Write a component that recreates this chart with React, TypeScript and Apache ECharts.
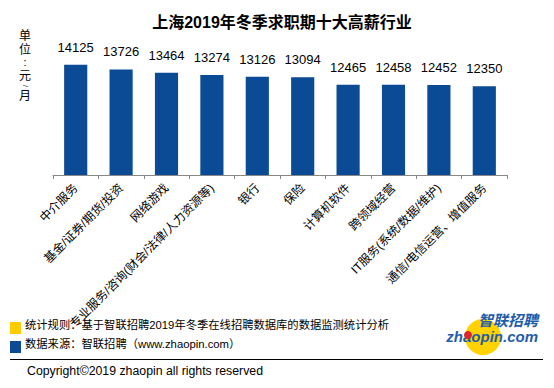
import React, { useEffect, useRef } from "react";
import * as echarts from "echarts";

const title = "上海2019年冬季求职期十大高薪行业";
const categories = [
  "中介服务",
  "基金/证券/期货/投资",
  "网络游戏",
  "专业服务/咨询(财会/法律/人力资源等)",
  "银行",
  "保险",
  "计算机软件",
  "跨领域经营",
  "IT服务(系统/数据/维护)",
  "通信/电信运营、增值服务",
];
const salaries = [14125, 13726, 13464, 13274, 13126, 13094, 12465, 12458, 12452, 12350];
const unitChars = ["单", "位", ":", "元", "/", "月"];
const note1 = "统计规则：基于智联招聘2019年冬季在线招聘数据库的数据监测统计分析";
const note2 = "数据来源：智联招聘（www.zhaopin.com）";
const copyright = "Copyright©2019 zhaopin all rights reserved";

const FONT = "Arial, 'Liberation Sans', 'Noto Sans CJK SC', sans-serif";
const BLUE = "#0B4A94";

export default function App() {
  const ref = useRef<HTMLDivElement>(null);
  useEffect(() => {
    document.body.style.margin = "0";
    if (!ref.current) return;
    const chart = echarts.init(ref.current, null, { renderer: "svg" });
    const unitY = [36, 50, 62, 76, 86, 96];
    const unitSize = [12, 12, 11, 12, 7, 12];
    const unitRot = [0, 0, 0, 0, -Math.PI / 2, 0];
    chart.setOption({
      animation: false,
      backgroundColor: "#fff",
      textStyle: { fontFamily: FONT },
      title: {
        text: title,
        left: 277,
        textAlign: "center",
        top: 9,
        textStyle: { fontSize: 16, fontWeight: "bold", color: "#000", fontFamily: FONT },
      },
      grid: { left: 53, right: 47, top: 42, bottom: 213, containLabel: false },
      xAxis: {
        type: "category",
        data: categories,
        axisLine: { lineStyle: { color: "#888", width: 1 } },
        axisTick: { show: true, length: 4, lineStyle: { color: "#888" } },
        axisLabel: {
          rotate: 45,
          interval: 0,
          fontSize: 12,
          color: "#000",
          margin: 11,
          fontFamily: FONT,
        },
      },
      yAxis: {
        type: "value",
        min: 5000,
        max: 16000,
        show: false,
        splitLine: { show: false },
      },
      series: [
        {
          type: "bar",
          data: salaries,
          barWidth: "51%",
          itemStyle: { color: BLUE },
          label: {
            show: true,
            position: "top",
            distance: 11,
            fontSize: 13,
            color: "#000",
            fontFamily: FONT,
          },
        },
      ],
      graphic: [
        ...unitChars.map((c, i) => ({
          type: "text",
          x: 25,
          y: unitY[i],
          rotation: unitRot[i],
          style: {
            text: c,
            fontSize: unitSize[i],
            fill: "#000",
            align: "center",
            verticalAlign: "middle",
            fontFamily: FONT,
          },
        })),
        { type: "rect", shape: { x: 10, y: 322, width: 11, height: 12 }, style: { fill: "#FFCC00" } },
        { type: "rect", shape: { x: 10, y: 341, width: 11, height: 12 }, style: { fill: BLUE } },
        {
          type: "text",
          x: 25,
          y: 325,
          style: { text: note1, fontSize: 11.3, fill: "#000", verticalAlign: "middle", fontFamily: FONT },
        },
        {
          type: "text",
          x: 25,
          y: 344,
          style: { text: note2, fontSize: 11.3, fill: "#000", verticalAlign: "middle", fontFamily: FONT },
        },
        {
          type: "line",
          shape: { x1: 10, y1: 359.5, x2: 543, y2: 359.5 },
          style: { stroke: "#000", lineWidth: 1 },
        },
        {
          type: "text",
          x: 27,
          y: 371,
          style: { text: copyright, fontSize: 12.3, fill: "#000", verticalAlign: "middle", fontFamily: FONT },
        },
        { type: "circle", shape: { cx: 483, cy: 337, r: 18 }, style: { fill: "#FFD200" } },
        {
          type: "text",
          x: 538,
          y: 320,
          style: {
            text: "智联招聘",
            fontSize: 15,
            fontWeight: "bold",
            fontStyle: "italic",
            fill: "#1F5DAA",
            align: "right",
            verticalAlign: "middle",
            fontFamily: FONT,
          },
        },
        {
          type: "text",
          x: 538,
          y: 336,
          style: {
            text: "zhaopin.com",
            fontSize: 15,
            fontWeight: "bold",
            fontStyle: "italic",
            fill: "#1F5DAA",
            align: "right",
            verticalAlign: "middle",
            fontFamily: FONT,
          },
        },
        { type: "circle", shape: { cx: 468, cy: 335, r: 4 }, style: { fill: "#D8282E" } },
      ],
    });
    return () => chart.dispose();
  }, []);
  return <div ref={ref} style={{ width: 554, height: 388 }} />;
}
